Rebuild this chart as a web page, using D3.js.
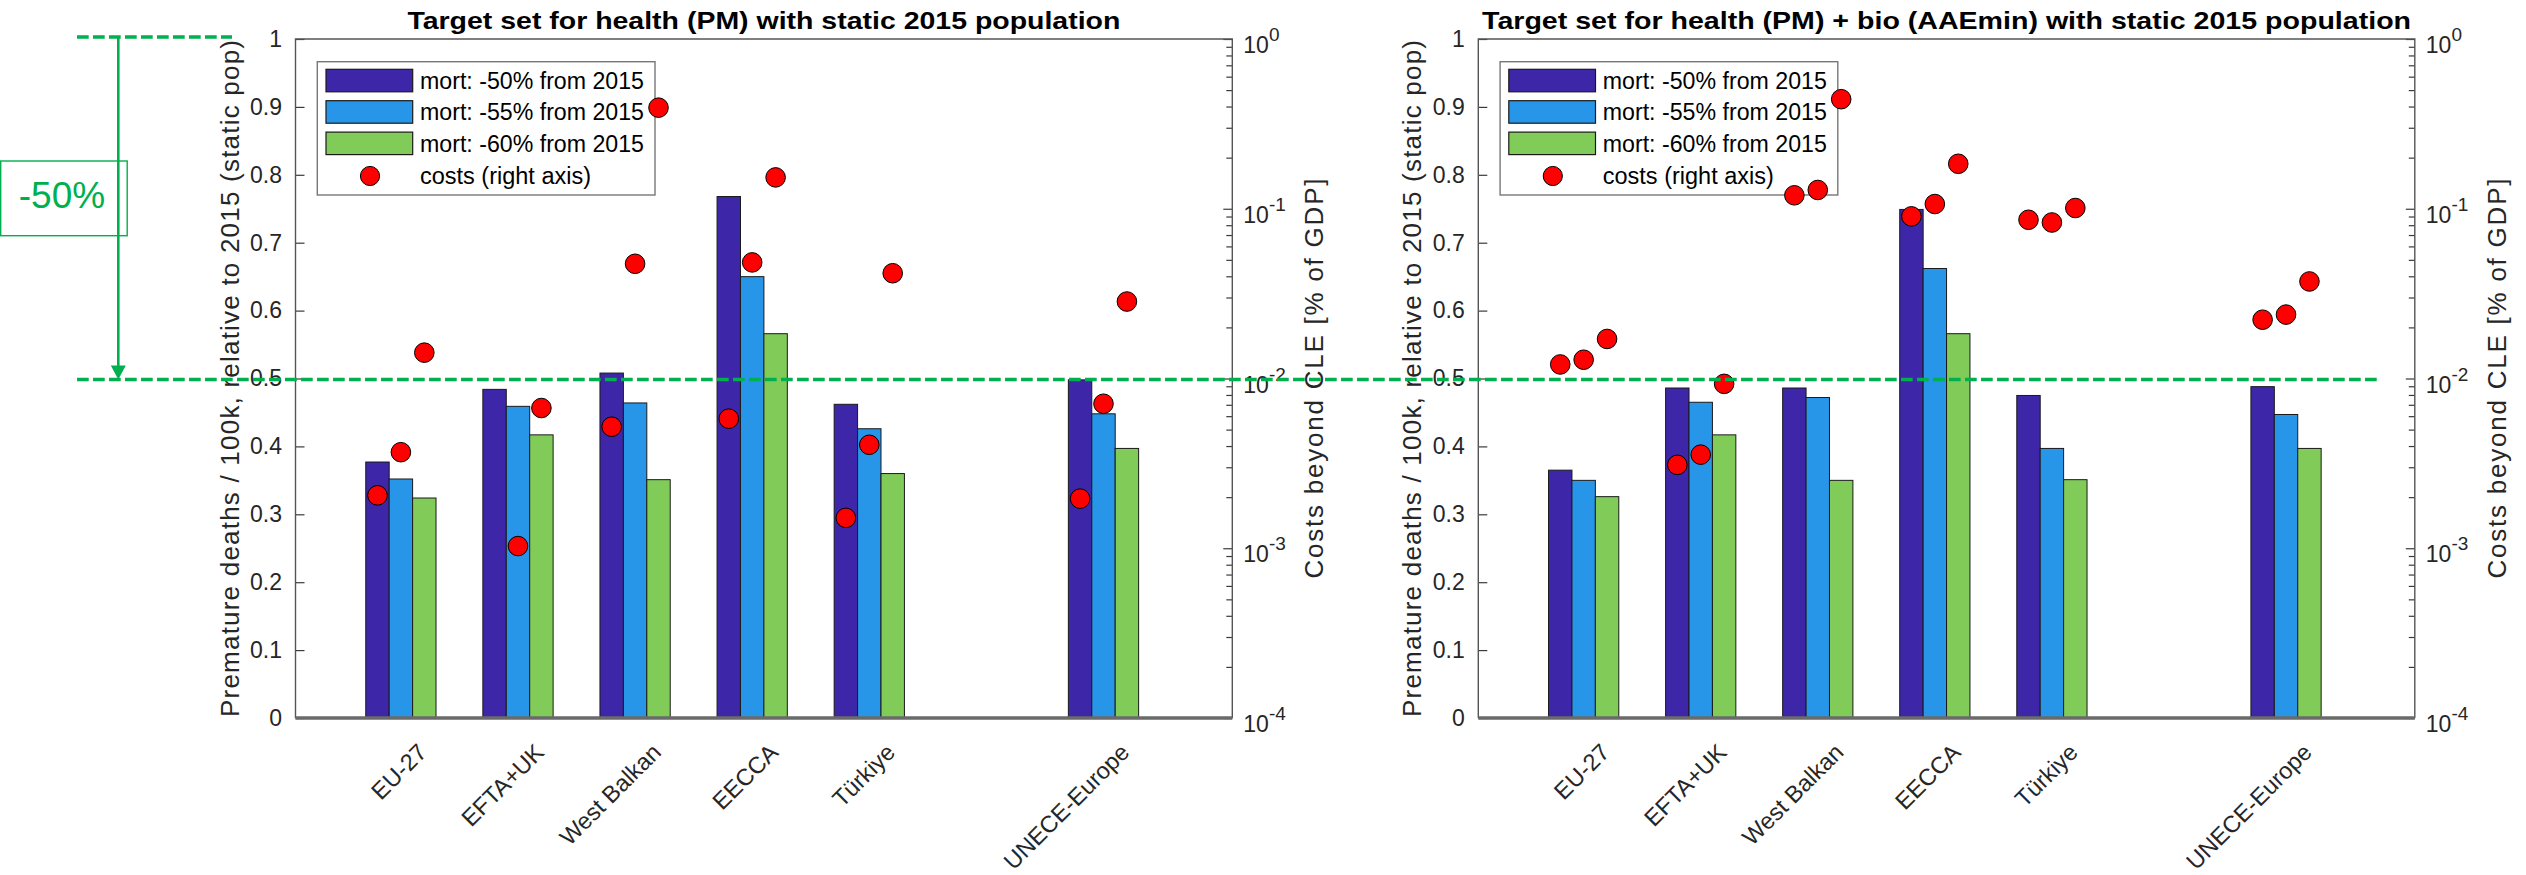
<!DOCTYPE html>
<html><head><meta charset="utf-8">
<script src="https://cdn.jsdelivr.net/npm/d3@7"></script>
<style>
body{margin:0;background:#fff}
svg{display:block}
text{font-family:"Liberation Sans",Arial,Helvetica,sans-serif}
</style>
</head><body>
<svg id="c" width="2526" height="875"></svg>
<script>
// ---------------- data ----------------
const categories = ["EU-27", "EFTA+UK", "West Balkan", "EECCA", "Türkiye", "UNECE-Europe"];
const positions = [1, 2, 3, 4, 5, 7];
const seriesNames = ["mort: -50% from 2015", "mort: -55% from 2015", "mort: -60% from 2015"];
const costLegendName = "costs (right axis)";

const titlePM = "Target set for health (PM) with static 2015 population";
const titleBio = "Target set for health (PM) + bio (AAEmin) with static 2015 population";
const yLabelLeft = "Premature deaths / 100k, relative to 2015 (static pop)";
const yLabelRight = "Costs beyond CLE [% of GDP]";

// panel 1: health (PM)
const pmMort50 = [0.377, 0.484, 0.508, 0.768, 0.462, 0.498];
const pmMort55 = [0.352, 0.459, 0.464, 0.650, 0.426, 0.448];
const pmMort60 = [0.324, 0.417, 0.351, 0.566, 0.360, 0.397];
const pmCost50 = [0.00205, null, 0.0052, 0.0058, 0.00151, 0.00196];
const pmCost55 = [0.00368, 0.00103, 0.0474, 0.0483, 0.00407, 0.0071];
const pmCost60 = [0.0142, 0.0067, 0.394, 0.153, 0.0417, 0.0284];

// panel 2: health (PM) + bio (AAEmin)
const bioMort50 = [0.365, 0.486, 0.486, 0.749, 0.475, 0.488];
const bioMort55 = [0.350, 0.465, 0.472, 0.662, 0.397, 0.447];
const bioMort60 = [0.326, 0.417, 0.350, 0.566, 0.351, 0.397];
const bioCost50 = [0.0121, 0.0031, 0.120, 0.0902, 0.0861, 0.0222];
const bioCost55 = [0.0129, 0.00356, 0.129, 0.1066, 0.083, 0.0238];
const bioCost60 = [0.0171, 0.0093, 0.442, 0.184, 0.101, 0.0373];

const leftTicks = [0, 0.1, 0.2, 0.3, 0.4, 0.5, 0.6, 0.7, 0.8, 0.9, 1];
const leftTickLabels = ["0", "0.1", "0.2", "0.3", "0.4", "0.5", "0.6", "0.7", "0.8", "0.9", "1"];
const rightTicks = [1e-4, 1e-3, 1e-2, 1e-1, 1];
const rightTickExp = ["-4", "-3", "-2", "-1", "0"];

const targetLabel = "-50%";
const targetFrom = 1.0, targetTo = 0.5;

// ---------------- styles ----------------
const barColors = ["#3d26a8", "#2896e8", "#81cb59"];
const axisColor = "#3a3a3a";
const textColor = "#262626";
const green = "#00b04f";

const svg = d3.select("#c");
const Y0 = 718, Y1 = 39;

const panels = [
  {L: 295.5, R: 1232.3, title: titlePM, titleLen: 713, mort: [pmMort50, pmMort55, pmMort60], cost: [pmCost50, pmCost55, pmCost60]},
  {L: 1478.3, R: 2414.8, title: titleBio, titleLen: 929, mort: [bioMort50, bioMort55, bioMort60], cost: [bioCost50, bioCost55, bioCost60]}
];

let yScaleRef;
panels.forEach(p => {
  const g = svg.append("g");
  const x = d3.scaleLinear().domain([0.1, 8.1]).range([p.L, p.R]);
  const y = d3.scaleLinear().domain([0, 1]).range([Y0, Y1]);
  const yR = d3.scaleLog().domain([1e-4, 1]).range([Y0, Y1]);
  yScaleRef = y;
  const bw = x(0.2) - x(0);
  const offs = [-0.2, 0, 0.2];

  // bars
  p.mort.forEach((vals, s) => {
    g.append("g").selectAll("rect").data(vals).join("rect")
      .attr("x", (d, i) => x(positions[i] + offs[s]) - bw / 2)
      .attr("y", d => y(d))
      .attr("width", bw)
      .attr("height", d => y(0) - y(d))
      .attr("fill", barColors[s])
      .attr("stroke", "#1a1a1a")
      .attr("stroke-width", 1);
  });

  // left axis
  const axL = d3.axisLeft(y).tickValues(leftTicks).tickFormat((d, i) => leftTickLabels[i])
    .tickSizeInner(-9).tickSizeOuter(0).tickPadding(13.5);
  const gl = g.append("g").attr("transform", `translate(${p.L},0)`).call(axL);
  gl.select(".domain").remove();
  gl.selectAll("line").attr("stroke", axisColor).attr("stroke-width", 1.2);
  gl.selectAll("text").attr("font-size", 23).attr("fill", textColor)
    .attr("font-family", "Liberation Sans, Arial, sans-serif");

  // right log axis: minor ticks
  const minor = [];
  for (let e = -4; e < 0; e++) for (let m = 2; m <= 9; m++) minor.push(m * Math.pow(10, e));
  const axRm = d3.axisRight(yR).tickValues(minor).tickFormat("").tickSizeInner(-6).tickSizeOuter(0);
  const grm = g.append("g").attr("transform", `translate(${p.R},0)`).call(axRm);
  grm.select(".domain").remove();
  grm.selectAll("line").attr("stroke", axisColor).attr("stroke-width", 1.2);
  const axR = d3.axisRight(yR).tickValues(rightTicks).tickFormat("").tickSizeInner(-9).tickSizeOuter(0);
  const gr = g.append("g").attr("transform", `translate(${p.R},0)`).call(axR);
  gr.select(".domain").remove();
  gr.selectAll("line").attr("stroke", axisColor).attr("stroke-width", 1.2);
  rightTicks.forEach((v, i) => {
    const t = g.append("text").attr("x", p.R + 11).attr("y", yR(v) + 14)
      .attr("font-size", 23).attr("fill", textColor).text("10");
    t.append("tspan").attr("dy", -12).attr("font-size", 19).text(rightTickExp[i]);
  });

  // x axis labels
  const axB = d3.axisBottom(x).tickValues(positions).tickFormat((d, i) => categories[i]).tickSize(0);
  const gb = g.append("g").attr("transform", `translate(0,${Y0})`).call(axB);
  gb.select(".domain").remove();
  gb.selectAll("text")
    .attr("font-size", 23.5).attr("fill", textColor)
    .attr("font-family", "Liberation Sans, Arial, sans-serif")
    .attr("x", 0).attr("y", 0).attr("dy", "0.35em")
    .attr("text-anchor", "end")
    .attr("transform", "translate(21,30) rotate(-45)");

  // box
  g.append("path")
    .attr("d", `M${p.L},${Y0}V${Y1}H${p.R}V${Y0}`)
    .attr("fill", "none").attr("stroke", "#555").attr("stroke-width", 1.4);
  // baseline
  g.append("line").attr("x1", p.L).attr("x2", p.R).attr("y1", y(0)).attr("y2", y(0))
    .attr("stroke", "#6a6a6a").attr("stroke-width", 3.6);

  // axis labels
  g.append("text")
    .attr("transform", `translate(${p.L - 66},${(Y0 + Y1) / 2}) rotate(-90)`)
    .attr("text-anchor", "middle").attr("dominant-baseline", "central")
    .attr("font-size", 26).attr("fill", textColor)
    .attr("textLength", 677).attr("lengthAdjust", "spacing")
    .text(yLabelLeft);
  g.append("text")
    .attr("transform", `translate(${p.R + 82},${(Y0 + Y1) / 2}) rotate(-90)`)
    .attr("text-anchor", "middle").attr("dominant-baseline", "central")
    .attr("font-size", 26).attr("fill", textColor)
    .attr("textLength", 400).attr("lengthAdjust", "spacing")
    .text(yLabelRight);

  // title
  g.append("text")
    .attr("x", (p.L + p.R) / 2).attr("y", 29)
    .attr("text-anchor", "middle").attr("font-size", 24).attr("font-weight", "bold")
    .attr("fill", "#000")
    .attr("textLength", p.titleLen).attr("lengthAdjust", "spacingAndGlyphs")
    .text(p.title);

  // legend
  const lx = p.L + 21.8, ly = 61.7;
  const lg = g.append("g").attr("transform", `translate(${lx},${ly})`);
  lg.append("rect").attr("x", 0).attr("y", 0).attr("width", 337.7).attr("height", 133.3)
    .attr("fill", "#fff").attr("stroke", "#777").attr("stroke-width", 1.4);
  seriesNames.forEach((nm, s) => {
    const ry = 7.6 + s * 31.4;
    lg.append("rect").attr("x", 8.7).attr("y", ry).attr("width", 86.7).attr("height", 22.5)
      .attr("fill", barColors[s]).attr("stroke", "#1a1a1a").attr("stroke-width", 1.2);
    lg.append("text").attr("x", 102.7).attr("y", ry + 11.5).attr("dominant-baseline", "central")
      .attr("font-size", 23).attr("fill", "#000")
      .attr("textLength", 224).attr("lengthAdjust", "spacingAndGlyphs").text(nm);
  });
  lg.append("circle").attr("cx", 52.7).attr("cy", 114.3).attr("r", 9.6)
    .attr("fill", "#ff0000").attr("stroke", "#000").attr("stroke-width", 1);
  lg.append("text").attr("x", 102.7).attr("y", 114.3).attr("dominant-baseline", "central")
    .attr("font-size", 23).attr("fill", "#000")
    .attr("textLength", 171).attr("lengthAdjust", "spacingAndGlyphs").text(costLegendName);

  // cost dots
  p.cost.forEach((vals, s) => {
    const pts = vals.map((v, i) => ({v, i})).filter(d => d.v != null);
    g.append("g").selectAll("circle").data(pts).join("circle")
      .attr("cx", d => x(positions[d.i] + offs[s]))
      .attr("cy", d => yR(d.v))
      .attr("r", 9.8)
      .attr("fill", "#ff0000").attr("stroke", "#000").attr("stroke-width", 1);
  });
});

// ---------------- annotation ----------------
const ann = svg.append("g");
const yT = yScaleRef;
ann.append("line").attr("x1", 77).attr("x2", 232).attr("y1", yT(targetFrom) - 2).attr("y2", yT(targetFrom) - 2)
  .attr("stroke", green).attr("stroke-width", 3.5).attr("stroke-dasharray", "11.7,4.3");
ann.append("line").attr("x1", 77).attr("x2", 2377).attr("y1", yT(targetTo) + 1).attr("y2", yT(targetTo) + 1)
  .attr("stroke", green).attr("stroke-width", 3.5).attr("stroke-dasharray", "11.7,4.3");
ann.append("rect").attr("x", 0.7).attr("y", 161).attr("width", 126.5).attr("height", 74.7)
  .attr("fill", "#fff").attr("stroke", green).attr("stroke-width", 1.4);
ann.append("line").attr("x1", 118.3).attr("x2", 118.3).attr("y1", yT(targetFrom) - 2).attr("y2", yT(targetTo) - 12)
  .attr("stroke", green).attr("stroke-width", 2.6);
ann.append("path")
  .attr("d", `M110.8,${yT(targetTo) - 13}L125.8,${yT(targetTo) - 13}L118.3,${yT(targetTo) + 1}Z`)
  .attr("fill", green);
ann.append("text").attr("x", 62).attr("y", 208.3).attr("text-anchor", "middle")
  .attr("font-size", 37).attr("fill", green).text(targetLabel);
</script>
</body></html>
